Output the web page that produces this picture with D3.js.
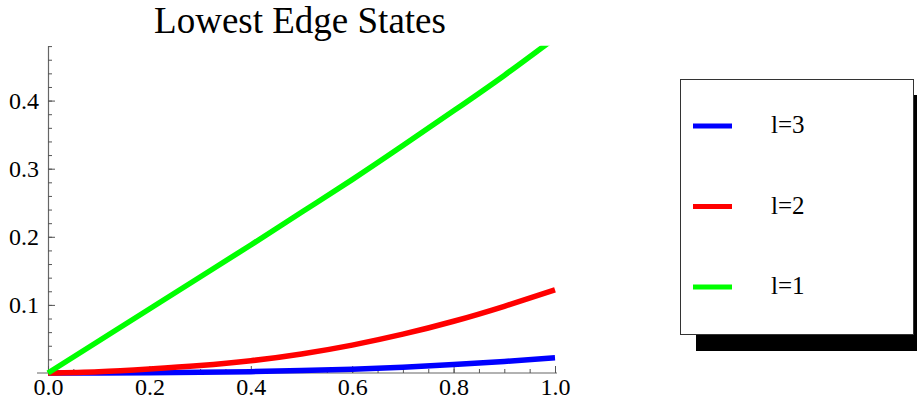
<!DOCTYPE html>
<html>
<head>
<meta charset="utf-8">
<script src="https://cdn.jsdelivr.net/npm/d3@7"></script>
<style>
  body { margin: 0; background: #fff; }
  svg text { font-family: "Liberation Serif", "Times New Roman", Times, serif !important; }
</style>
</head>
<body>
<div id="chart"></div>
<script>
// Data
const xValues = [0, 0.1, 0.2, 0.3, 0.4, 0.5, 0.6, 0.7, 0.8, 0.9, 1.0];
const greenValues = [0, 0.047, 0.094, 0.141, 0.188, 0.236, 0.284, 0.334, 0.385, 0.437, 0.492]; // l=1
const redValues = [0, 0.002, 0.006, 0.011, 0.018, 0.028, 0.041, 0.057, 0.076, 0.098, 0.122];   // l=2
const blueValues = [0, 0.0001, 0.0004, 0.001, 0.002, 0.0035, 0.0055, 0.0085, 0.0125, 0.017, 0.0225]; // l=3
const xMajorTicks = [0, 0.2, 0.4, 0.6, 0.8, 1.0];
const yMajorTicks = [0.1, 0.2, 0.3, 0.4];
const legendLabels = ["l=3", "l=2", "l=1"];
const legendColors = ["#0000ff", "#ff0000", "#00ff00"];

const width = 917;
const height = 401;

const svg = d3.select("#chart")
    .append("svg")
    .attr("width", width)
    .attr("height", height)
    .attr("font-family", "'Liberation Serif', serif");

// Scales
const x = d3.scaleLinear().domain([0, 1]).range([48, 555]);
const y = d3.scaleLinear().domain([0, 0.4806]).range([373, 45.7]);

// Title
svg.append("text")
    .attr("x", 300)
    .attr("y", 33)
    .attr("text-anchor", "middle")
    .style("font-size", "37px")
    .text("Lowest Edge States");

// X axis line extends a bit left of the y axis
svg.append("line")
    .attr("x1", 37).attr("x2", 557)
    .attr("y1", y(0)).attr("y2", y(0))
    .attr("stroke", "#666").attr("stroke-width", 1.2);

// Minor ticks
const xMinor = d3.range(0, 1.0001, 0.05);
const yMinor = d3.range(0.02, 0.4801, 0.02);

svg.append("g")
    .attr("transform", `translate(0,${y(0)})`)
    .call(d3.axisBottom(x).tickValues(xMinor).tickSizeInner(-4).tickSizeOuter(0).tickFormat(""))
    .call(g => g.select(".domain").remove())
    .call(g => g.selectAll("line").attr("stroke", "#555"));

svg.append("g")
    .attr("transform", `translate(${x(0)},0)`)
    .call(d3.axisLeft(y).tickValues(yMinor).tickSizeInner(-4).tickSizeOuter(0).tickFormat(""))
    .call(g => g.select(".domain").attr("stroke", "#666").attr("stroke-width", 1.2))
    .call(g => g.selectAll(".tick line").attr("stroke", "#555"));

// Major ticks with labels
svg.append("g")
    .attr("transform", `translate(0,${y(0)})`)
    .attr("font-family", null)
    .call(d3.axisBottom(x).tickValues(xMajorTicks).tickSizeInner(-7).tickSizeOuter(0)
        .tickPadding(5).tickFormat(d3.format(".1f")))
    .attr("font-family", null)
    .attr("font-size", null)
    .call(g => g.select(".domain").remove())
    .call(g => g.selectAll("line").attr("stroke", "#555"))
    .call(g => g.selectAll("text")
        .style("font-size", "24px")
        .attr("fill", "#000"));

svg.append("g")
    .attr("transform", `translate(${x(0)},0)`)
    .call(d3.axisLeft(y).tickValues(yMajorTicks).tickSizeInner(-7).tickSizeOuter(0)
        .tickPadding(9).tickFormat(d3.format(".1f")))
    .attr("font-family", null)
    .attr("font-size", null)
    .call(g => g.select(".domain").remove())
    .call(g => g.selectAll("line").attr("stroke", "#555"))
    .call(g => g.selectAll("text")
        .style("font-size", "24px")
        .attr("fill", "#000"));

// Clip to plot range
svg.append("clipPath").attr("id", "plotClip")
    .append("rect")
    .attr("x", x(0) - 10).attr("y", y.range()[1])
    .attr("width", x(1) - x(0) + 20).attr("height", y(0) - y.range()[1] + 10);

const line = d3.line()
    .x(d => x(d[0]))
    .y(d => y(d[1]))
    .curve(d3.curveNatural);

const series = [
    { values: blueValues, color: "#0000ff" },
    { values: redValues, color: "#ff0000" },
    { values: greenValues, color: "#00ff00" }
];

svg.append("g")
    .attr("clip-path", "url(#plotClip)")
    .selectAll("path")
    .data(series)
    .enter()
    .append("path")
    .attr("d", s => line(xValues.map((xv, i) => [xv, s.values[i]])))
    .attr("fill", "none")
    .attr("stroke", s => s.color)
    .attr("stroke-width", 5.5);

// Legend with drop shadow
const legend = svg.append("g");
legend.append("rect")
    .attr("x", 696).attr("y", 95)
    .attr("width", 221).attr("height", 256)
    .attr("fill", "#000");
legend.append("rect")
    .attr("x", 680.5).attr("y", 79.5)
    .attr("width", 233).attr("height", 255)
    .attr("fill", "#fff")
    .attr("stroke", "#333").attr("stroke-width", 1);

const legendY = d3.scalePoint().domain(legendLabels).range([126, 287]);

legend.selectAll(".legend-line")
    .data(legendLabels)
    .enter()
    .append("line")
    .attr("x1", 693).attr("x2", 732)
    .attr("y1", d => legendY(d)).attr("y2", d => legendY(d))
    .attr("stroke", (d, i) => legendColors[i])
    .attr("stroke-width", 5);

legend.selectAll(".legend-text")
    .data(legendLabels)
    .enter()
    .append("text")
    .attr("x", 771)
    .attr("y", d => legendY(d) + 7)
    .style("font-size", "25px")
    .text(d => d);
</script>
</body>
</html>
